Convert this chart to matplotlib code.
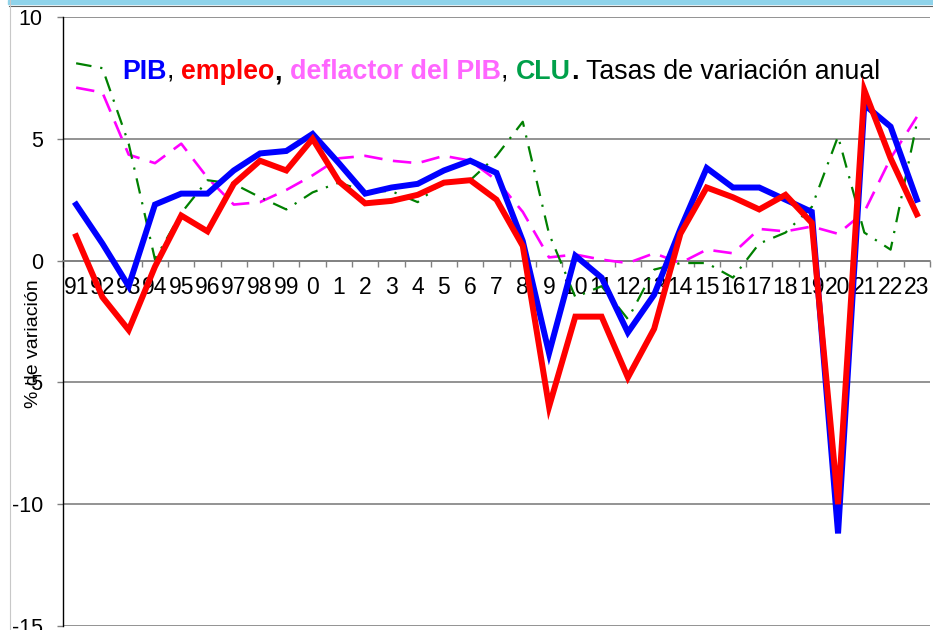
import matplotlib
matplotlib.use("Agg")
import matplotlib.pyplot as plt
from matplotlib.patches import Rectangle
from matplotlib.lines import Line2D

plt.rcParams['font.family'] = ['Liberation Sans', 'DejaVu Sans']

years = ["91", "92", "93", "94", "95", "96", "97", "98", "99", "0", "1", "2", "3",
         "4", "5", "6", "7", "8", "9", "10", "11", "12", "13", "14", "15", "16",
         "17", "18", "19", "20", "21", "22", "23"]

pib = [2.3, 0.7, -1.05, 2.3, 2.75, 2.75, 3.7, 4.4, 4.5, 5.2, 4.0, 2.75, 3.0,
       3.15, 3.7, 4.1, 3.6, 0.8, -3.8, 0.2, -0.7, -2.95, -1.4, 1.3, 3.8, 3.0,
       3.0, 2.5, 2.0, -11.2, 6.4, 5.5, 2.5]
empleo = [1.0, -1.5, -2.85, -0.25, 1.85, 1.2, 3.15, 4.1, 3.7, 5.0, 3.25, 2.35, 2.45,
          2.7, 3.2, 3.3, 2.5, 0.6, -6.0, -2.3, -2.3, -4.8, -2.8, 1.1, 3.0, 2.6,
          2.1, 2.7, 1.55, -10.0, 7.0, 4.2, 1.9]
deflactor = [7.1, 6.9, 4.35, 4.0, 4.8, 3.4, 2.3, 2.4, 2.9, 3.5, 4.2, 4.3, 4.1,
             4.0, 4.3, 4.1, 3.3, 2.0, 0.13, 0.25, 0.04, -0.1, 0.3, -0.1, 0.45, 0.3,
             1.3, 1.2, 1.4, 1.1, 2.0, 4.2, 5.9]
clu = [8.1, 7.9, 4.8, 0.05, 1.95, 3.3, 3.15, 2.6, 2.1, 2.8, 3.2, 2.85, 2.85,
       2.4, 3.25, 3.3, 4.3, 5.7, 1.1, -1.5, -1.05, -2.4, -0.37, -0.1, -0.1, -0.7,
       0.7, 1.15, 2.2, 5.1, 1.15, 0.45, 5.65]

W, H = 933, 630
fig = plt.figure(figsize=(W / 100, H / 100), dpi=100)
ax = fig.add_axes([63 / W, 1 - 626 / H, (930 - 63) / W, (626 - 17) / H])

x = list(range(len(years)))
ax.plot(x, deflactor, color='#FF00FF', lw=1.9, dashes=(7, 4), zorder=3)
ax.plot(x, clu, color='#008000', lw=1.6, dashes=(7, 4, 1, 4), zorder=3)
ax.plot(x, pib, color='#0000FF', lw=4.3, zorder=4, solid_joinstyle='miter')
ax.plot(x, empleo, color='#FF0000', lw=4.3, zorder=5, solid_joinstyle='miter')

ax.set_xlim(-0.5, len(years) - 0.5)
ax.set_ylim(-15, 10)
ax.set_yticks([-15, -10, -5, 0, 5, 10])
ax.set_yticklabels(["-15", "-10", "-5", "0", "5", "10"])
ax.yaxis.grid(True, color='#808080', lw=1.2)
ax.set_axisbelow(True)

ax.spines['top'].set_visible(False)
ax.spines['right'].set_visible(False)
ax.spines['left'].set_color('black')
ax.spines['left'].set_linewidth(1.0)
ax.spines['bottom'].set_position(('data', 0))
ax.spines['bottom'].set_color('#808080')
ax.spines['bottom'].set_linewidth(1.2)

ax.set_xticks(x)
ax.set_xticklabels(years)
ax.set_xticks([i - 0.5 for i in range(len(years) + 1)], minor=True)
ax.tick_params(axis='x', which='major', length=0, pad=11, labelsize=16.5)
ax.tick_params(axis='x', which='minor', length=4.5, color='#808080', width=1.0)
ax.tick_params(axis='y', which='major', length=4.5, color='#808080', width=1.0,
               pad=10, labelsize=15.5)

fig.text(33 / W, 1 - 344 / H, "% de variación", rotation=90, ha='center', va='center',
         fontsize=14)

# title pieces
pieces = [("PIB", '#0000FF', 'bold', 0), (",", 'black', 'normal', 0),
          ("empleo", '#FF0000', 'bold', 5.5), (",", 'black', 'bold', 0),
          ("deflactor del PIB", '#FF66FF', 'bold', 5.5), (",", 'black', 'normal', 0),
          ("CLU", '#00A04A', 'bold', 5.5), (".", 'black', 'bold', 0),
          ("Tasas de variación anual", 'black', 'normal', 5.5)]
fs = 19.3
prev = None
for txt, col, wt, gap in pieces:
    if prev is None:
        prev = fig.text(122 / W, 1 - 79 / H, txt, color=col, fontweight=wt,
                        fontsize=fs, ha='left', va='baseline')
    else:
        prev = ax.annotate(txt, xy=(1, 0), xycoords=prev, xytext=(gap, 0),
                           textcoords='offset points', color=col, fontweight=wt,
                           fontsize=fs, ha='left', va='bottom',
                           annotation_clip=False)

# slide decorations
fig.patches.append(Rectangle((8 / W, 1 - 4 / H), 1, 4 / H, transform=fig.transFigure,
                             color='#8fd3ea', zorder=0))
fig.lines.append(Line2D([9 / W, 1], [1 - 5.5 / H, 1 - 5.5 / H], transform=fig.transFigure,
                        color='#606060', lw=0.8))
fig.lines.append(Line2D([9.5 / W, 9.5 / W], [0, 1], transform=fig.transFigure,
                        color='#c8c8c8', lw=0.8))

fig.savefig("out.png", dpi=100)
